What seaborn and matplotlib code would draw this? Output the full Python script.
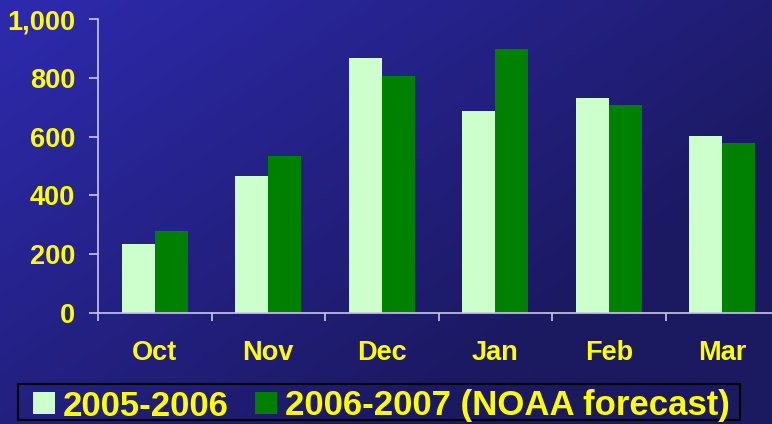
import numpy as np
import pandas as pd
import matplotlib
matplotlib.use("Agg")
import matplotlib.pyplot as plt
from matplotlib.patches import Patch, Rectangle
import seaborn as sns

# data
months = ["Oct", "Nov", "Dec", "Jan", "Feb", "Mar"]
season_2005 = [235, 466, 867, 687, 731, 602]
season_2006 = [279, 534, 806, 898, 707, 578]
series_names = ["2005-2006", "2006-2007 (NOAA forecast)"]
y_ticks = [0, 200, 400, 600, 800, 1000]
y_labels = ["0", "200", "400", "600", "800", "1,000"]

df = pd.DataFrame({
    "month": months * 2,
    "value": season_2005 + season_2006,
    "series": [series_names[0]] * 6 + [series_names[1]] * 6,
})

sns.set_style("white")
plt.rcParams["font.family"] = ["Liberation Sans", "DejaVu Sans"]
plt.rcParams["font.weight"] = "bold"

W, H = 772, 424
fig = plt.figure(figsize=(W / 100, H / 100), dpi=100)

# gradient background: brighter blue top-left, dark navy bottom-right
bg = fig.add_axes([0, 0, 1, 1], zorder=0)
yy, xx = np.mgrid[0:1:200j, 0:1:300j]
t = np.clip(0.75 * xx + 0.6 * yy, 0, 1)
c0 = np.array([46, 42, 175]) / 255
c1 = np.array([27, 25, 96]) / 255
img = c0[None, None, :] * (1 - t[..., None]) + c1[None, None, :] * t[..., None]
bg.imshow(img, aspect="auto", extent=[0, 1, 0, 1], origin="upper")
bg.axis("off")

left = 98 / W
bottom = (H - 313) / H
top = (H - 19) / H
width = 681 / W
ax = fig.add_axes([left, bottom, width, top - bottom], zorder=1)
ax.patch.set_alpha(0)

sns.barplot(data=df, x="month", y="value", hue="series", order=months,
            palette=["#ccffcc", "#008000"], width=0.58, gap=0,
            saturation=1, ax=ax, legend=False)
for p in ax.patches:
    p.set_edgecolor("none")

ax.set_xlim(-0.5, 5.5)
ax.set_ylim(0, 1000)
ax.set_xlabel("")
ax.set_ylabel("")

axis_col = "#c8c8e6"
for s in ["top", "right"]:
    ax.spines[s].set_visible(False)
for s in ["left", "bottom"]:
    ax.spines[s].set_color(axis_col)
    ax.spines[s].set_linewidth(1.2)

ax.set_yticks(y_ticks)
ax.set_yticklabels(y_labels)
ax.tick_params(axis="y", left=True, direction="out", length=6.5, width=1.2,
               color=axis_col, labelsize=19.5, labelcolor="#ffff00", pad=10)
ax.tick_params(axis="x", which="major", bottom=True, length=0, labelsize=19.5,
               labelcolor="#ffff00", pad=19.5)
ax.set_xticks(np.arange(-0.5, 5.6, 1), minor=True)
ax.tick_params(axis="x", which="minor", bottom=True, direction="out", length=6,
               width=1.2, color=axis_col)
for lab in ax.get_xticklabels() + ax.get_yticklabels():
    lab.set_fontweight("bold")

# legend box drawn in figure pixels, legend itself without frame
fig.patches.append(Rectangle((18 / W, 1 - 420 / H), 722 / W, 36 / H,
                             transform=fig.transFigure, facecolor="none",
                             edgecolor="black", linewidth=1.5, zorder=2))
handles = [Patch(facecolor="#ccffcc", edgecolor="none"),
           Patch(facecolor="#008000", edgecolor="none")]
leg = fig.legend(handles, series_names, loc="center left",
                 bbox_to_anchor=(33 / W, 1 - 406 / H), ncol=2,
                 prop={"size": 25, "weight": "bold"},
                 handlelength=0.64, handleheight=0.59, handletextpad=0.23,
                 columnspacing=0.74, borderpad=0, borderaxespad=0,
                 frameon=False)
for txt in leg.get_texts():
    txt.set_color("#ffff00")

fig.savefig("out.png", dpi=100)
